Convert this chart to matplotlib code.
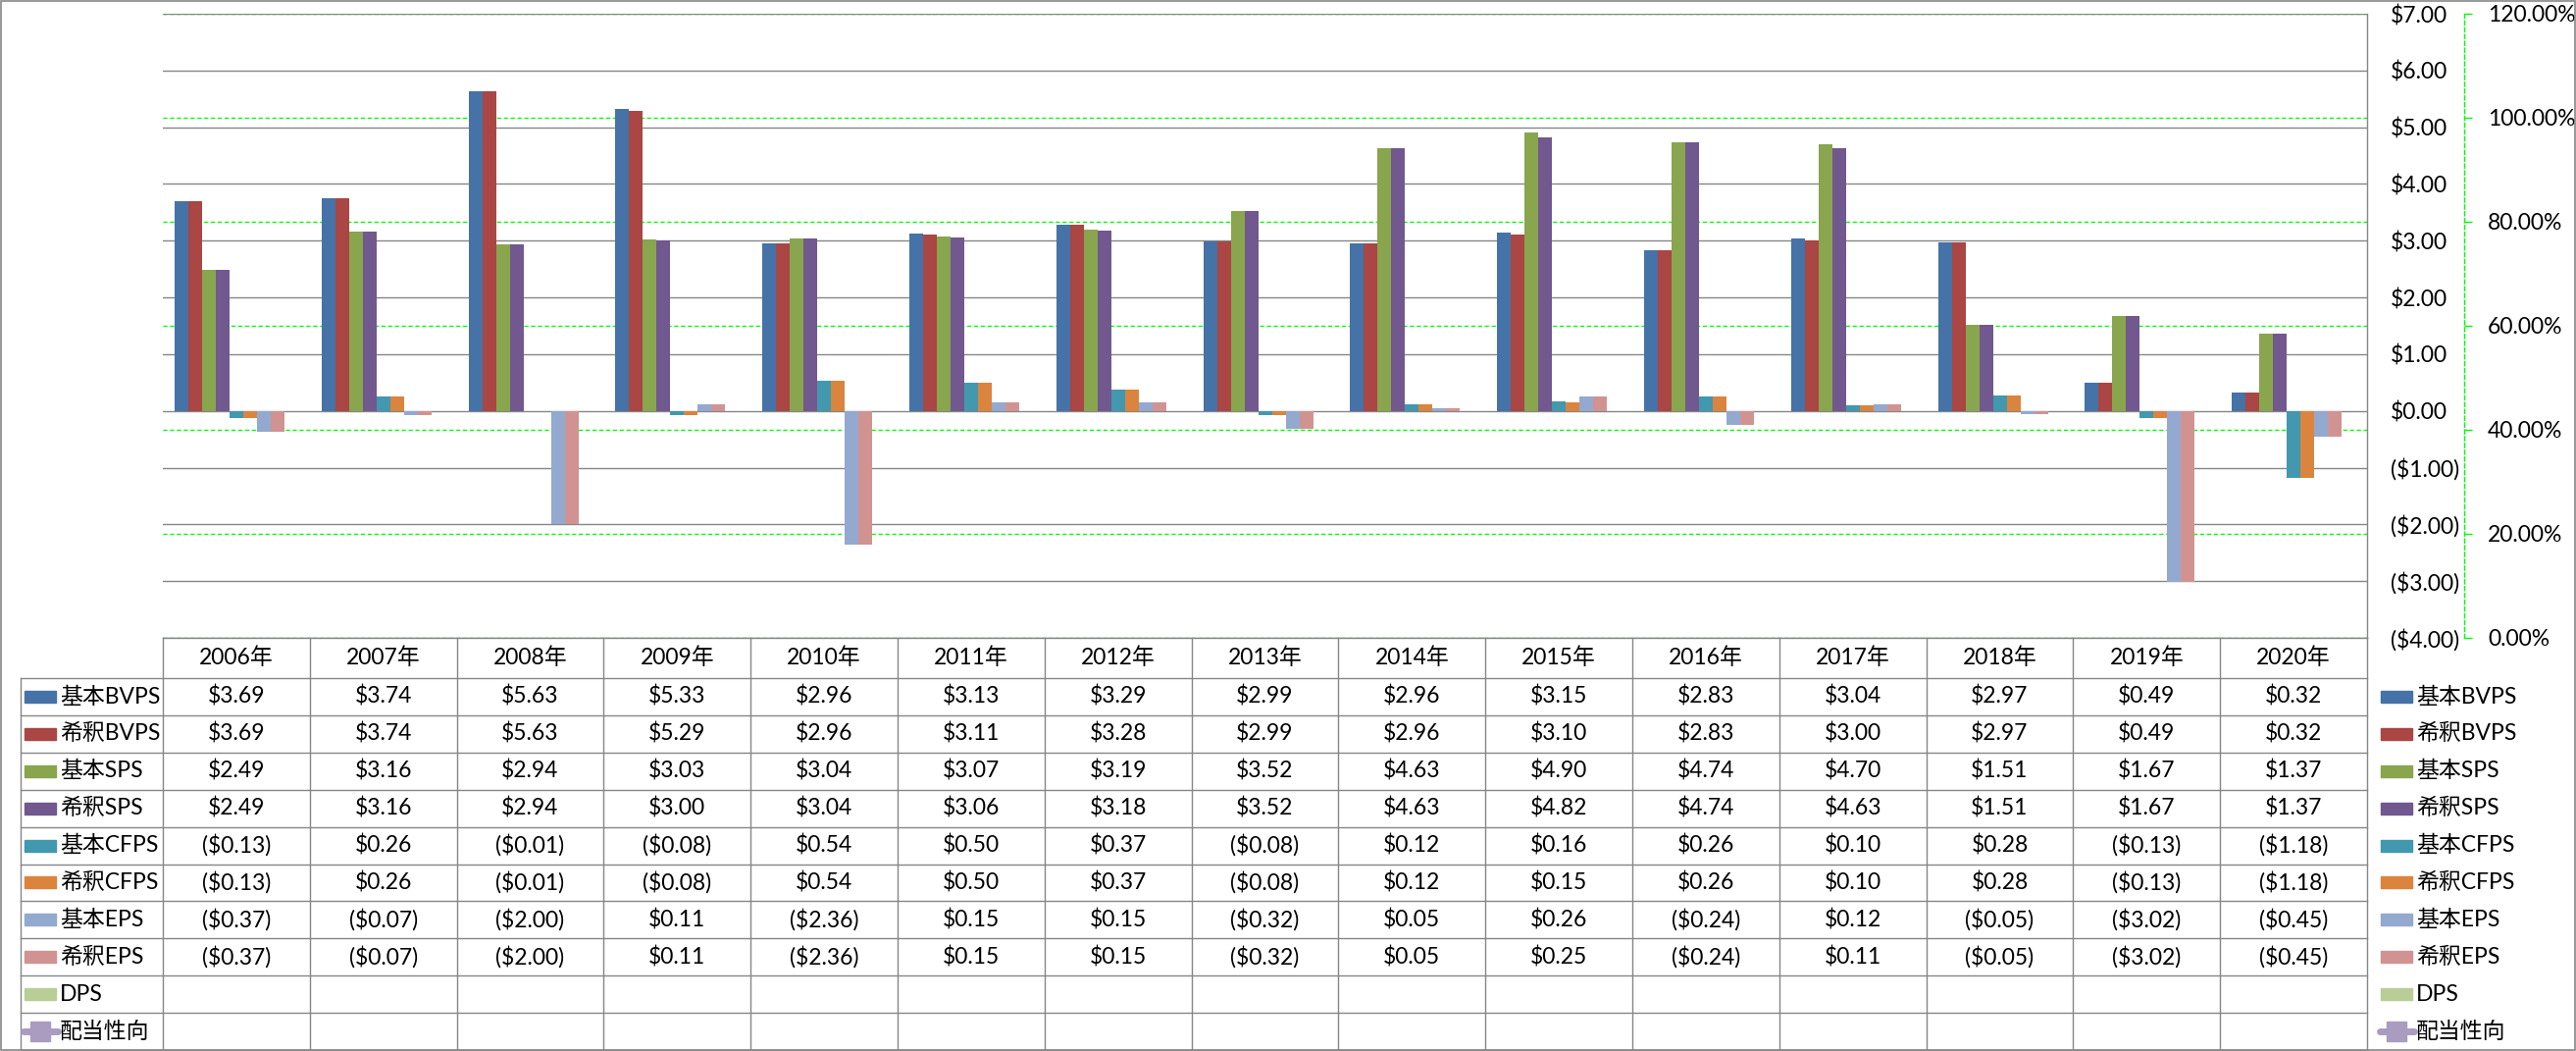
import numpy as np
import matplotlib
matplotlib.use("Agg")
import matplotlib.pyplot as plt
from matplotlib.lines import Line2D
from matplotlib.patches import Rectangle
from matplotlib.ticker import PercentFormatter

plt.rcParams['font.family'] = ['Lato', 'Noto Sans CJK JP', 'DejaVu Sans']

# ---- data ----
years = ['2006年', '2007年', '2008年', '2009年', '2010年', '2011年', '2012年', '2013年',
         '2014年', '2015年', '2016年', '2017年', '2018年', '2019年', '2020年']

basic_bvps = [3.69, 3.74, 5.63, 5.33, 2.96, 3.13, 3.29, 2.99, 2.96, 3.15, 2.83, 3.04, 2.97, 0.49, 0.32]
dil_bvps = [3.69, 3.74, 5.63, 5.29, 2.96, 3.11, 3.28, 2.99, 2.96, 3.10, 2.83, 3.00, 2.97, 0.49, 0.32]
basic_sps = [2.49, 3.16, 2.94, 3.03, 3.04, 3.07, 3.19, 3.52, 4.63, 4.90, 4.74, 4.70, 1.51, 1.67, 1.37]
dil_sps = [2.49, 3.16, 2.94, 3.00, 3.04, 3.06, 3.18, 3.52, 4.63, 4.82, 4.74, 4.63, 1.51, 1.67, 1.37]
basic_cfps = [-0.13, 0.26, -0.01, -0.08, 0.54, 0.50, 0.37, -0.08, 0.12, 0.16, 0.26, 0.10, 0.28, -0.13, -1.18]
dil_cfps = [-0.13, 0.26, -0.01, -0.08, 0.54, 0.50, 0.37, -0.08, 0.12, 0.15, 0.26, 0.10, 0.28, -0.13, -1.18]
basic_eps = [-0.37, -0.07, -2.00, 0.11, -2.36, 0.15, 0.15, -0.32, 0.05, 0.26, -0.24, 0.12, -0.05, -3.02, -0.45]
dil_eps = [-0.37, -0.07, -2.00, 0.11, -2.36, 0.15, 0.15, -0.32, 0.05, 0.25, -0.24, 0.11, -0.05, -3.02, -0.45]
dps = [None] * 15
payout = [None] * 15

series_names = ['基本BVPS', '希釈BVPS', '基本SPS', '希釈SPS', '基本CFPS', '希釈CFPS',
                '基本EPS', '希釈EPS', 'DPS', '配当性向']
series_values = [basic_bvps, dil_bvps, basic_sps, dil_sps, basic_cfps, dil_cfps,
                 basic_eps, dil_eps, dps, payout]
colors = ['#4572A7', '#AA4643', '#89A54E', '#71588F', '#4198AF', '#DB843D',
          '#93A9CF', '#D19392', '#B9CD96', '#A99CC0']


def money(v):
    if v is None:
        return ''
    return f'${v:.2f}' if v >= 0 else f'(${-v:.2f})'


# ---- layout (pixels) ----
W, H = 2626, 1071
PL, PR, PT, PB = 166, 2413, 14, 650
GRAY = '#868686'
FS = 16.5

fig = plt.figure(figsize=(W / 100, H / 100), dpi=100)
ax = fig.add_axes([PL / W, 1 - PB / H, (PR - PL) / W, (PB - PT) / H])
ax2 = ax.twinx()

# bars: 9 slots per year (DPS slot empty)
x = np.arange(len(years))
colw = (PR - PL) / len(years)
w = 14 / colw
for j in range(9):
    vals = np.array([np.nan if v is None else v for v in series_values[j]], dtype=float)
    ax.bar(x + (j - 4) * w, vals, width=w, color=colors[j], zorder=3)

ax.set_xlim(-0.5, len(years) - 0.5)
ax.set_ylim(-4, 7)
ticks = list(range(-4, 8))
ax.set_yticks(ticks, labels=[money(t) for t in ticks])
for t, lab in zip(ticks, ax.get_yticklabels()):
    lab.set_color('red' if t < 0 else 'black')
ax.yaxis.tick_right()
ax.tick_params(axis='y', length=0, pad=17.3, labelsize=FS)
ax.set_xticks([])
ax.yaxis.grid(True, color=GRAY, lw=1.0)
ax.set_axisbelow(True)
for s in ['left', 'top', 'bottom']:
    ax.spines[s].set_visible(False)
ax.spines['right'].set_color(GRAY)
ax.spines['right'].set_linewidth(1.0)

# secondary axis (配当性向)
ax2.set_ylim(0, 1.2)
ax2.set_yticks(np.arange(0, 1.21, 0.2))
ax2.yaxis.set_major_formatter(PercentFormatter(1.0, decimals=2))
ax2.spines['right'].set_position(('axes', (2512 - PL) / (PR - PL)))
ax2.spines['right'].set_color('#00FF00')
ax2.spines['right'].set_linestyle((0, (3, 2)))
ax2.spines['right'].set_linewidth(1.0)
for s in ['left', 'top', 'bottom']:
    ax2.spines[s].set_visible(False)
ax2.tick_params(axis='y', direction='out', length=5.8, width=1.0, color='#00FF00',
                labelcolor='black', pad=11.5, labelsize=FS)
ax2.yaxis.grid(True, color='#00FF00', ls=(0, (3, 2)), lw=1.0)

ax.set_zorder(ax2.get_zorder() + 1)
ax.patch.set_visible(False)

# ---- data table ----
tab = fig.add_axes([0, 0, 1, 1])
tab.set_xlim(0, W)
tab.set_ylim(H, 0)
tab.axis('off')

HB = 691
rh = (1070 - HB) / len(series_names)
LX = 21

tab.plot([PL, PR], [PB, PB], color=GRAY, lw=1.0)
for k in range(len(series_names) + 1):
    yy = HB + k * rh
    tab.plot([LX, PR], [yy, yy], color=GRAY, lw=1.0)
tab.plot([LX, LX], [HB, 1070], color=GRAY, lw=1.0)
for k in range(len(years) + 1):
    xx = PL + k * colw
    tab.plot([xx, xx], [PB, 1070], color=GRAY, lw=1.0)

for i, yr in enumerate(years):
    tab.text(PL + (i + 0.5) * colw, (PB + HB) / 2, yr, ha='center', va='center', fontsize=FS)

for r, (name, vals, c) in enumerate(zip(series_names, series_values, colors)):
    yc = HB + (r + 0.5) * rh
    for i, v in enumerate(vals):
        tab.text(PL + (i + 0.5) * colw, yc, money(v), ha='center', va='center', fontsize=FS)
    # legend keys: left in the table, and right-hand legend
    for kx, tx in [(25, 61), (2427, 2463)]:
        if name == '配当性向':
            tab.add_line(Line2D([kx - 1, kx + 34], [yc, yc], color=c, lw=5,
                                solid_capstyle='round'))
            tab.add_line(Line2D([kx + 16], [yc], color=c, marker='s', markersize=14,
                                lw=0, mec=c))
        else:
            tab.add_patch(Rectangle((kx, yc - 6), 32, 12, color=c))
        tab.text(tx, yc, name, ha='left', va='center', fontsize=FS)

# outer border
tab.add_patch(Rectangle((0.5, 0.5), W - 1.5, H - 1.5, fill=False, ec=GRAY, lw=1.2))

fig.savefig('out.png', dpi=100)
